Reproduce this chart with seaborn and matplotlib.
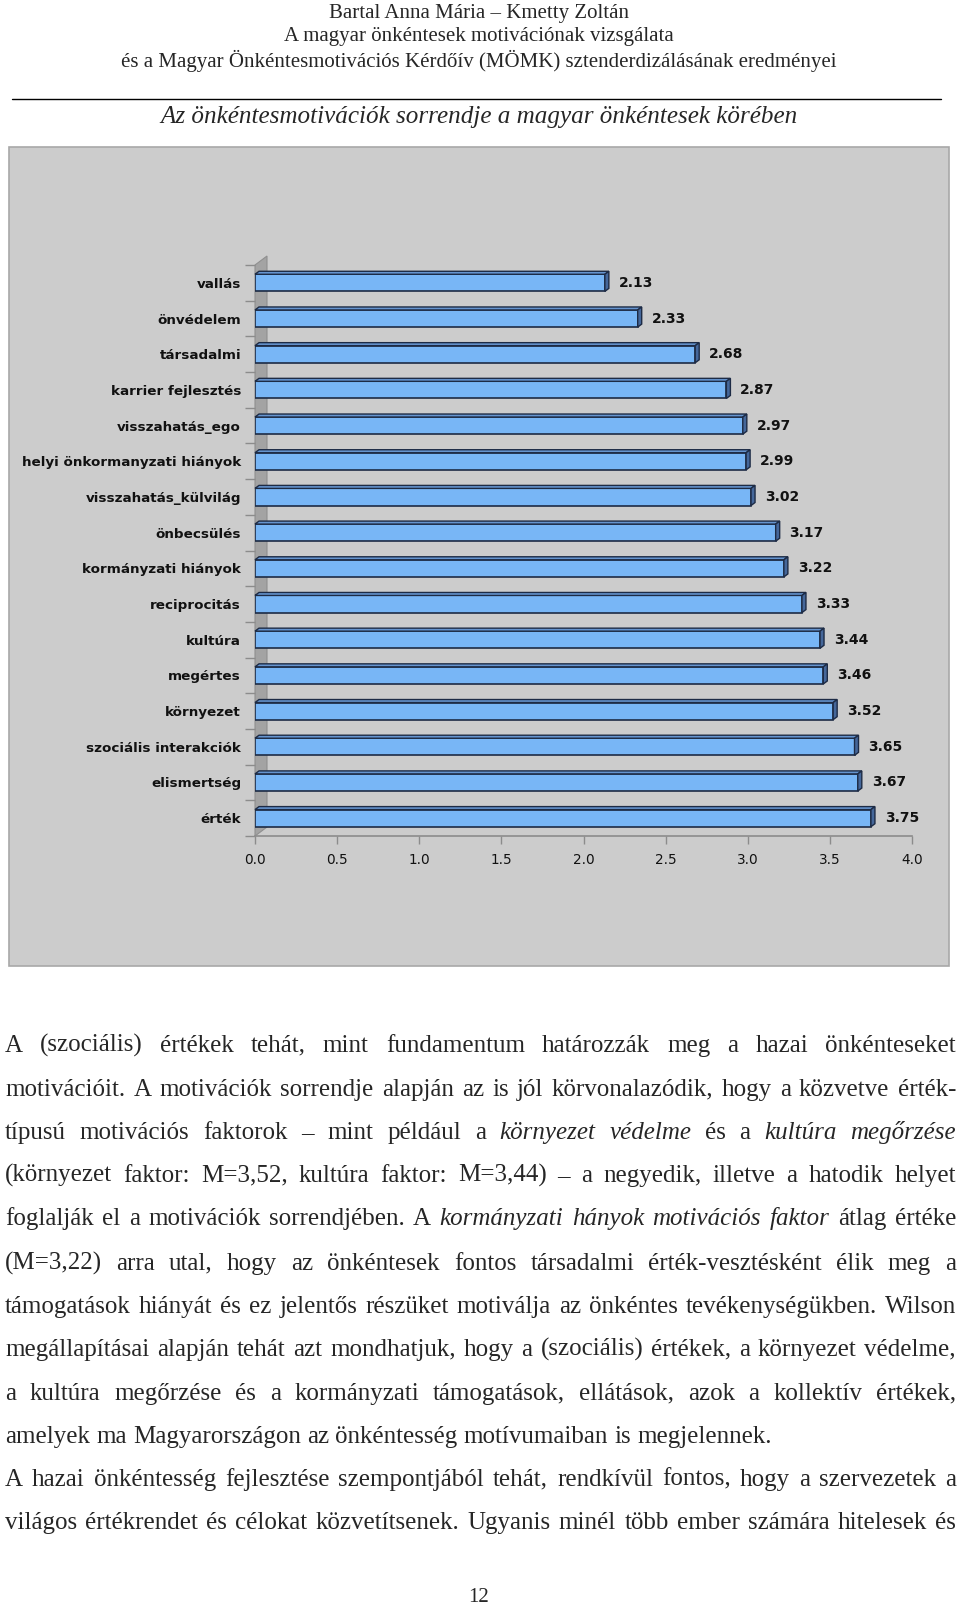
import matplotlib
matplotlib.use("Agg")
import matplotlib.pyplot as plt
import seaborn as sns
import numpy as np
import pandas as pd
from matplotlib.patches import Polygon, Rectangle
from matplotlib.transforms import IdentityTransform
from matplotlib.lines import Line2D

# ---------------- data ----------------
categories = ["vallás", "önvédelem", "társadalmi", "karrier fejlesztés",
              "visszahatás_ego", "helyi önkormanyzati hiányok",
              "visszahatás_külvilág", "önbecsülés", "kormányzati hiányok",
              "reciprocitás", "kultúra", "megértes", "környezet",
              "szociális interakciók", "elismertség", "érték"]
values = [2.13, 2.33, 2.68, 2.87, 2.97, 2.99, 3.02, 3.17, 3.22,
          3.33, 3.44, 3.46, 3.52, 3.65, 3.67, 3.75]
xticks = [0.0, 0.5, 1.0, 1.5, 2.0, 2.5, 3.0, 3.5, 4.0]

header_lines = ["Bartal Anna Mária – Kmetty Zoltán",
                "A magyar önkéntesek motivációnak vizsgálata",
                "és a Magyar Önkéntesmotivációs Kérdőív (MÖMK) sztenderdizálásának eredményei"]
chart_title = "Az önkéntesmotivációk sorrendje a magyar önkéntesek körében"

# (line, justified) ; *...* marks italic
body_lines = [
    ("A (szociális) értékek tehát, mint fundamentum határozzák meg a hazai önkénteseket", True),
    ("motivációit. A motivációk sorrendje alapján az is jól körvonalazódik, hogy a közvetve érték-", True),
    ("típusú motivációs faktorok – mint például a *környezet védelme* és a *kultúra megőrzése*", True),
    ("(környezet faktor: M=3,52, kultúra faktor: M=3,44) – a negyedik, illetve a hatodik helyet", True),
    ("foglalják el a motivációk sorrendjében. A *kormányzati hányok motivációs faktor* átlag értéke", True),
    ("(M=3,22) arra utal, hogy az önkéntesek fontos társadalmi érték-vesztésként élik meg a", True),
    ("támogatások hiányát és ez jelentős részüket motiválja az önkéntes tevékenységükben. Wilson", True),
    ("megállapításai alapján tehát azt mondhatjuk, hogy a (szociális) értékek, a környezet védelme,", True),
    ("a kultúra megőrzése és a kormányzati támogatások, ellátások, azok a kollektív értékek,", True),
    ("amelyek ma Magyarországon az önkéntesség motívumaiban is megjelennek.", False),
    ("A hazai önkéntesség fejlesztése szempontjából tehát, rendkívül fontos, hogy a szervezetek a", True),
    ("világos értékrendet és célokat közvetítsenek. Ugyanis minél több ember számára hitelesek és", True),
]
page_number = "12"

# ---------------- setup ----------------
W, H = 960, 1607
sns.set_theme(style="white")
plt.rcParams['font.family'] = ['DejaVu Sans']

fig = plt.figure(figsize=(W / 100, H / 100), dpi=100)
fig.patch.set_facecolor("white")
renderer = fig.canvas.get_renderer()
SERIF = "Liberation Serif"


def fy(y):
    return 1 - y / H


def text_width(s, size, style="normal", family=SERIF, weight="normal"):
    t = fig.text(0, 0, s, fontsize=size, family=family, style=style, weight=weight)
    w = t.get_window_extent(renderer).width
    t.remove()
    return w


# ---------------- page header ----------------
head_size = 10 * 715 / text_width(header_lines[2], 10)
for y, line in zip([13.5, 37, 60.5], header_lines):
    fig.text(0.4985, fy(y), line, fontsize=head_size, family=SERIF,
             ha="center", va="center")
fig.add_artist(Line2D([12 / W, 941 / W], [fy(98.5)] * 2, color="black", lw=1))
title_size = 10 * 638 / text_width(chart_title, 10, style="italic")
fig.text(0.4985, fy(117), chart_title, fontsize=title_size, family=SERIF,
         style="italic", ha="center", va="center")

# ---------------- chart ----------------
fig.add_artist(Rectangle((9 / W, fy(966)), 940 / W, 819 / H, transform=fig.transFigure,
                         facecolor="#cccccc", edgecolor="#a8a8a8", lw=1.2, zorder=0))

bar_color = "#78b6f6"
edge_color = "#1d2b45"
ax = fig.add_axes([255 / W, fy(836), 657 / W, 571 / H])
ax.set_facecolor("none")
df = pd.DataFrame({"motivacio": categories, "atlag": values})
sns.barplot(data=df, x="atlag", y="motivacio", orient="h", color=bar_color,
            saturation=1, edgecolor=edge_color, linewidth=1.2, width=0.48,
            errorbar=None, ax=ax)
ax.set_xlim(0, 4)
ax.set_ylim(len(categories) - 0.5, -0.5)
ax.set_xlabel("")
ax.set_ylabel("")
ax.set_xticks(xticks)
ax.set_xticklabels([f"{t:.1f}" for t in xticks])
ax.set_yticks(np.arange(-0.5, len(categories), 1), minor=True)
for s in ["top", "right", "left"]:
    ax.spines[s].set_visible(False)
ax.spines["bottom"].set_color("#8c8c8c")
ax.spines["bottom"].set_linewidth(1.2)
ax.tick_params(axis="x", bottom=True, length=6, width=1, color="#8c8c8c",
               pad=6, labelsize=9.8, labelcolor="#111111")
ax.tick_params(axis="y", which="major", left=True, length=0, pad=10)
ax.tick_params(axis="y", which="minor", left=True, length=7.5, width=1, color="#8c8c8c")
for lab in ax.get_yticklabels():
    lab.set_fontweight("bold")
    lab.set_fontsize(9.7)
    lab.set_color("#111111")

# 3D side wall and bar faces (display coords)
bars = list(ax.containers[0])
L, B = ax.transAxes.transform((0, 0))
R, T = ax.transAxes.transform((1, 1))
wdx, wdy = 12, 9
ax.add_patch(Polygon([(L, B), (L, T), (L + wdx, T + wdy), (L + wdx, B + wdy)],
                     closed=True, transform=IdentityTransform(), clip_on=False,
                     facecolor="#a3a3a3", edgecolor="#8f8f8f", lw=0.8, zorder=0.5))
dx, dy = 4, 3
for p in bars:
    x0, y0 = ax.transData.transform((p.get_x(), p.get_y() + p.get_height()))
    x1, y1 = ax.transData.transform((p.get_x() + p.get_width(), p.get_y()))
    ax.add_patch(Polygon([(x0, y1), (x1, y1), (x1 + dx, y1 + dy), (x0 + dx, y1 + dy)],
                         closed=True, transform=IdentityTransform(), clip_on=False,
                         facecolor="#6594cf", edgecolor=edge_color, lw=1, zorder=2))
    ax.add_patch(Polygon([(x1, y0), (x1, y1), (x1 + dx, y1 + dy), (x1 + dx, y0 + dy)],
                         closed=True, transform=IdentityTransform(), clip_on=False,
                         facecolor="#45679a", edgecolor=edge_color, lw=1, zorder=2))

ax.bar_label(ax.containers[0], fmt="%.2f", padding=10, fontsize=10,
             fontweight="bold", color="#111111")

# ---------------- body text (justified) ----------------
LEFT, RIGHT = 5, 956
line_y = [1044, 1088, 1131, 1174, 1217, 1262, 1305, 1348, 1392, 1435, 1478, 1521]


def split_words(line):
    words = []
    for i, seg in enumerate(line.split("*")):
        for w in seg.split():
            words.append((w, "italic" if i % 2 else "normal"))
    return words


base = 10
space_w = text_width("n n", base) - text_width("nn", base)
scale = None
for line, just in body_lines:
    ws = split_words(line)
    nat = sum(text_width(w, base, st) for w, st in ws) + space_w * (len(ws) - 1)
    target = (RIGHT - LEFT) if just else 769
    s = target / nat
    scale = s if scale is None else min(scale, s)
body_size = base * scale
space_w = text_width("n n", body_size) - text_width("nn", body_size)
em_px = body_size * 100 / 72

for (line, just), y in zip(body_lines, line_y):
    ws = split_words(line)
    widths = [text_width(w, body_size, st) for w, st in ws]
    gap = (RIGHT - LEFT - sum(widths)) / (len(ws) - 1) if just else space_w
    x = LEFT
    for (w, st), wd in zip(ws, widths):
        fig.text(x / W, fy(y + 0.3 * em_px), w, fontsize=body_size, family=SERIF,
                 style=st, ha="left", va="baseline")
        x += wd + gap

fig.text(0.4985, fy(1597), page_number, fontsize=head_size, family=SERIF,
         ha="center", va="center")

fig.savefig("out.png", dpi=100)
